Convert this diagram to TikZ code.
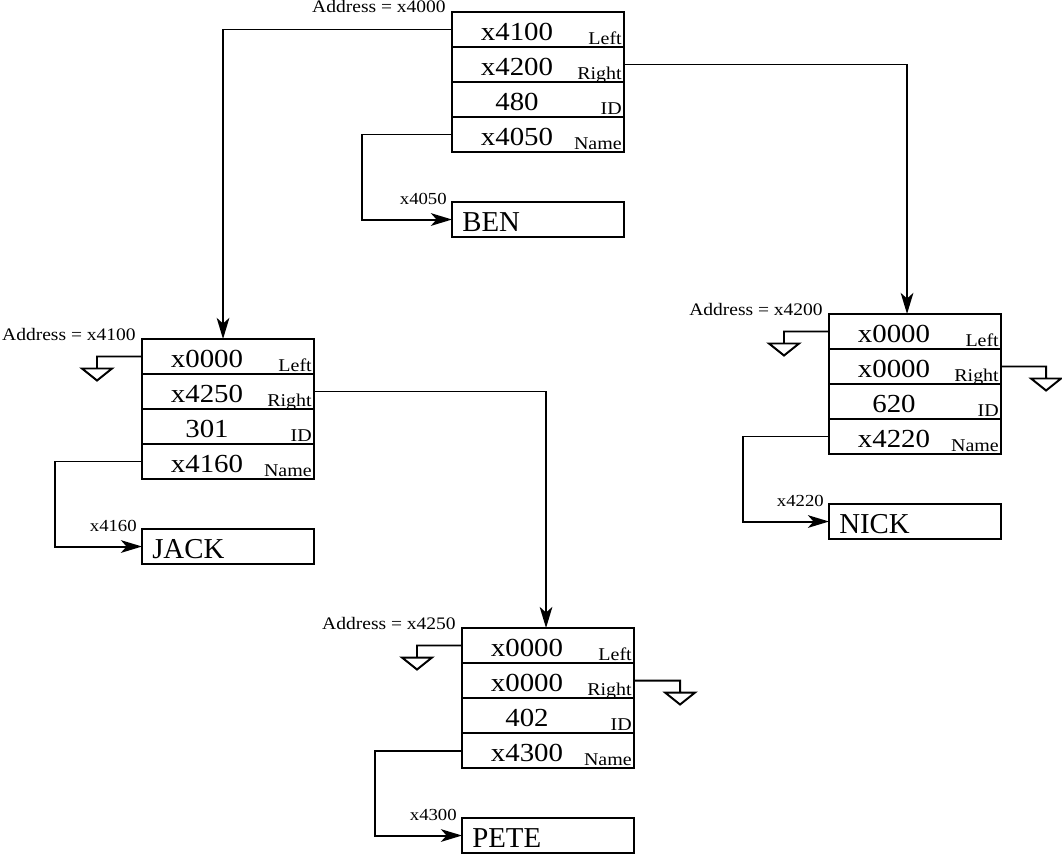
\documentclass[tikz,border=0pt]{standalone}
\usepackage{fontspec}
\setmainfont{Liberation Serif}
\newfontfamily\widefont[FakeStretch=1.11]{Liberation Serif}
\usetikzlibrary{calc,arrows.meta}

% one record: name, top left corner, address, left, right, id, name pointer
\newcommand{\record}[7]{%
  \node[addr] (#1-a) at ($(#2)+(-6,1)$) {Address = #3};
  \foreach \val/\fld [count=\i from 0] in {#4/Left,#5/Right,#6/ID,#7/Name}{
    \node[cell] (#1-\i) at ($(#2)+(0,35*\i)$) {};
    \node[val] (#1-v\i) at ($(#1-\i.south west)+(65,-7)$) {\val};
    \node[fld] (#1-f\i) at ($(#1-\i.south east)+(-2,-3)$) {\fld};
  }}
% the string box below a record
\newcommand{\namebox}[4]{%
  \node[cell] (#1) at ($(#2-3.south west)+(0,50)$) {};
  \node[nm] (#1-t) at ($(#1.south west)+(10,-6)$) {#3};
  \node[lbl] (#1-a) at ($(#1.north west)+(-5,2)$) {#4};}
% null pointer
\newcommand{\ground}[2]{%
  \draw[wire] (#1) -- ++(#2,0) -- ++(0,12) ++(-15,0) -- ++(30,0) -- ++(-15,12) -- cycle;}

\begin{document}
\begin{tikzpicture}[x=0.025cm,y=-0.025cm,>={Stealth[length=15pt,width=9pt,inset=4pt]},
  cell/.style={draw,line width=1.4pt,anchor=north west,minimum width=4.3cm,minimum height=0.875cm,inner sep=0pt,outer sep=0pt},
  val/.style={anchor=base,inner sep=0pt,font=\widefont\fontsize{18.5}{18}\selectfont},
  fld/.style={anchor=base east,inner sep=0pt,font=\widefont\fontsize{12.8}{12}\selectfont},
  addr/.style={anchor=base east,inner sep=0pt,font=\widefont\fontsize{12.5}{12}\selectfont},
  lbl/.style={anchor=base east,inner sep=0pt,font=\widefont\fontsize{12}{12}\selectfont},
  nm/.style={anchor=base west,inner sep=0pt,font=\fontsize{20.5}{20}\selectfont},
  ptr/.style={->,line width=1.4pt},
  wire/.style={line width=1.4pt}]
  \useasboundingbox (0,0) rectangle (1062,854);

  \record{rec480}{452,12}{x4000}{x4100}{x4200}{480}{x4050}
  \record{rec301}{142,339}{x4100}{x0000}{x4250}{301}{x4160}
  \record{rec620}{829,314}{x4200}{x0000}{x0000}{620}{x4220}
  \record{rec402}{462,628}{x4250}{x0000}{x0000}{402}{x4300}

  \namebox{ben}{rec480}{BEN}{x4050}
  \namebox{jack}{rec301}{JACK}{x4160}
  \namebox{nick}{rec620}{NICK}{x4220}
  \namebox{pete}{rec402}{PETE}{x4300}

  % left / right links
  \draw[ptr] (rec480-0.west) -| ($(rec301-0.north)+(-5,0)$);
  \draw[ptr] (rec480-1.east) -| ($(rec620-0.north)+(-8,0)$);
  \draw[ptr] (rec301-1.east) -| ($(rec402-0.north)+(-2,0)$);

  % name links
  \draw[ptr] (rec480-3.west) -- ++(-90,0) |- (ben.west);
  \draw[ptr] (rec301-3.west) -- ++(-87,0) |- (jack.west);
  \draw[ptr] (rec620-3.west) -- ++(-86,0) |- (nick.west);
  \draw[ptr] (rec402-3.west) -- ++(-87,0) |- (pete.west);

  % null links
  \ground{rec301-0.west}{-45}
  \ground{rec620-0.west}{-45}
  \ground{rec620-1.east}{45}
  \ground{rec402-0.west}{-45}
  \ground{rec402-1.east}{46}
\end{tikzpicture}
\end{document}
